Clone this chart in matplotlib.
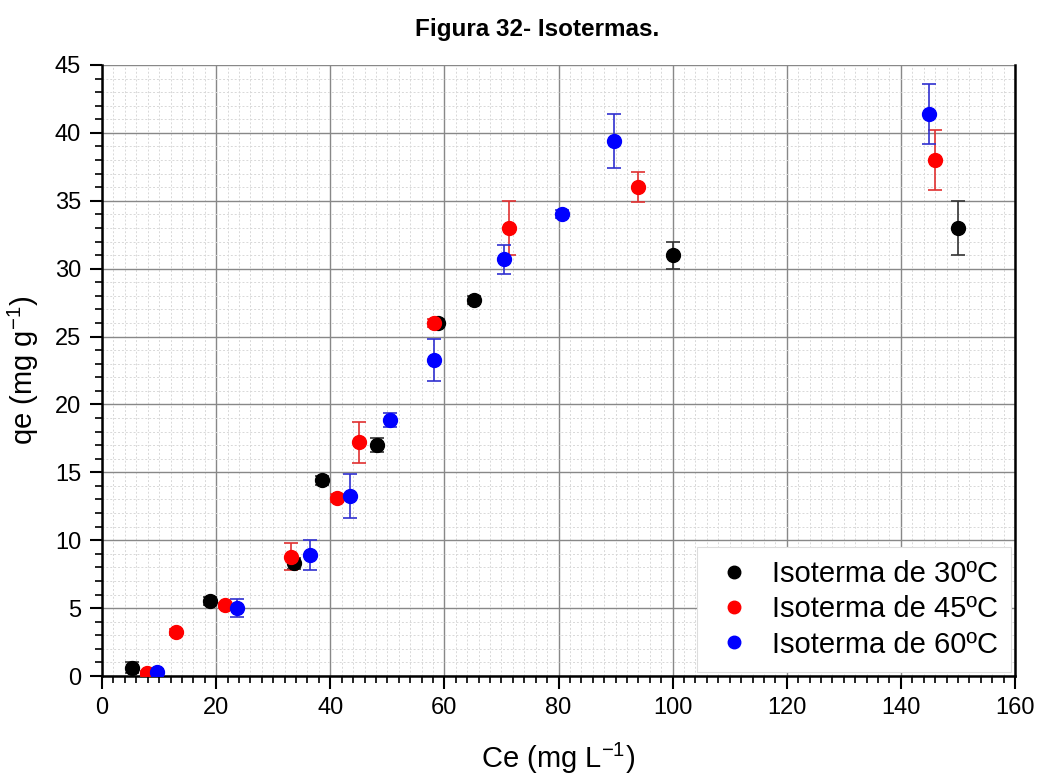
import matplotlib
matplotlib.use('Agg')
import matplotlib.pyplot as plt
from matplotlib.lines import Line2D
from matplotlib.ticker import MultipleLocator

plt.rcParams['font.family'] = ['Liberation Sans', 'DejaVu Sans']
plt.rcParams['mathtext.default'] = 'regular'

# data
ce_30 = [5.2, 19.0, 33.6, 38.5, 48.1, 58.8, 65.2, 100.0, 150.0]
qe_30 = [0.6, 5.5, 8.3, 14.4, 17.0, 26.0, 27.7, 31.0, 33.0]
err_30 = [0.4, 0.3, 0.4, 0.3, 0.5, 0.3, 0.3, 1.0, 2.0]

ce_45 = [7.8, 13.0, 21.5, 33.1, 41.1, 45.1, 58.1, 71.4, 94.0, 146.0]
qe_45 = [0.2, 3.25, 5.2, 8.8, 13.1, 17.2, 26.0, 33.0, 36.0, 38.0]
err_45 = [0.2, 0.2, 0.2, 1.0, 0.3, 1.5, 0.3, 2.0, 1.1, 2.2]

ce_60 = [9.6, 23.7, 36.4, 43.5, 50.5, 58.1, 70.5, 80.6, 89.7, 145.0]
qe_60 = [0.3, 5.0, 8.9, 13.25, 18.85, 23.25, 30.7, 34.0, 39.4, 41.4]
err_60 = [0.2, 0.67, 1.1, 1.6, 0.5, 1.55, 1.07, 0.3, 2.0, 2.2]

series = [
    (ce_30, qe_30, err_30, 'black', '#333333', 'Isoterma de 30ºC'),
    (ce_45, qe_45, err_45, 'red', '#e03030', 'Isoterma de 45ºC'),
    (ce_60, qe_60, err_60, 'blue', '#3030d0', 'Isoterma de 60ºC'),
]

fig = plt.figure(figsize=(10.37, 7.8), dpi=100)
ax = fig.add_axes([0.0984, 0.1333, 0.8804, 0.7834])

handles = []
for x, y, e, c, ec, lab in series:
    ax.errorbar(x, y, yerr=e, fmt='o', color=c, ecolor=ec, markersize=10,
                elinewidth=1.2, capsize=5, capthick=1.2, zorder=3)
    handles.append(Line2D([], [], linestyle='none', marker='o', color=c,
                          markersize=9, label=lab))

ax.set_xlim(0, 160)
ax.set_ylim(0, 45)
ax.xaxis.set_major_locator(MultipleLocator(20))
ax.xaxis.set_minor_locator(MultipleLocator(2))
ax.yaxis.set_major_locator(MultipleLocator(5))
ax.yaxis.set_minor_locator(MultipleLocator(1))

ax.grid(which='major', color='#888888', linewidth=1.0)
ax.grid(which='minor', color='#d8d8d8', linewidth=0.7, linestyle=(0, (2, 2)))
ax.set_axisbelow(True)

ax.spines['top'].set_visible(False)
for s in ['left', 'bottom', 'right']:
    ax.spines[s].set_linewidth(1.8)
    ax.spines[s].set_color('black')

ax.tick_params(which='major', direction='out', length=9, width=1.5,
               labelsize=17, pad=6)
ax.tick_params(which='minor', direction='out', length=5, width=1.2)

ax.set_xlabel('Ce (mg L$^{-1}$)', fontsize=21, labelpad=16)
ax.set_ylabel('qe (mg g$^{-1}$)', fontsize=21, labelpad=10)

fig.text(0.518, 0.962, 'Figura 32- Isotermas.', ha='center', va='center',
         fontsize=17.5, fontweight='bold')

leg = ax.legend(handles=handles, loc='lower right', fontsize=21, frameon=True,
                fancybox=False, edgecolor='#dddddd', framealpha=1.0,
                handletextpad=0.5, handlelength=1.6, borderpad=0.45,
                labelspacing=0.25, borderaxespad=0.15)
leg.get_frame().set_linewidth(0.8)

plt.savefig('out.png', dpi=100)
